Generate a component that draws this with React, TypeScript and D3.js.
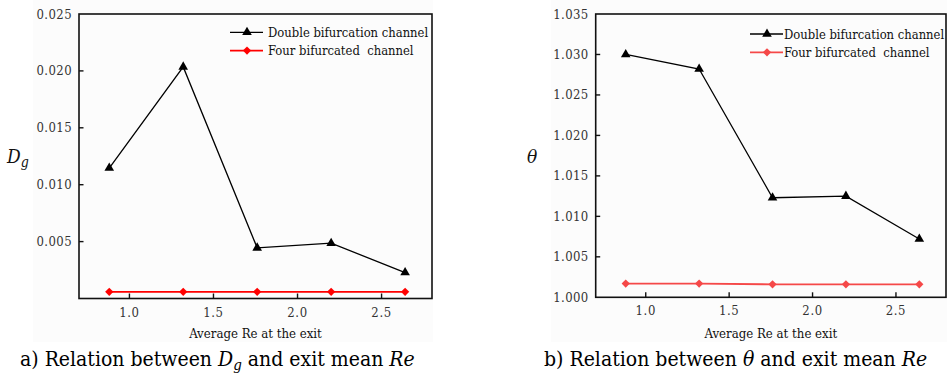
import React, { useEffect, useRef } from 'react';
import * as d3 from 'd3';

// Average Re at the exit
const reValues = [0.88, 1.32, 1.76, 2.2, 2.64];
const xTicks = [1.0, 1.5, 2.0, 2.5];

// a) Dg
const dgDouble = [0.01146, 0.02035, 0.00445, 0.00486, 0.00228];
const dgFour = [0.00059, 0.00059, 0.00059, 0.00059, 0.00059];
const dgTicks = [0.005, 0.01, 0.015, 0.02, 0.025];

// b) theta
const thetaDouble = [1.03, 1.0282, 1.0123, 1.0125, 1.0072];
const thetaFour = [1.0017, 1.0017, 1.0016, 1.0016, 1.0016];
const thetaTicks = [1.0, 1.005, 1.01, 1.015, 1.02, 1.025, 1.03, 1.035];

const seriesNames = ['Double bifurcation channel', 'Four bifurcated  channel'];

const W = 947;
const H = 374;
const FONT = '"DejaVu Serif Condensed", "DejaVu Serif", serif';

interface PanelCfg {
  left: number;
  right: number;
  top: number;
  bottom: number;
  yDomain: [number, number];
  yTicks: number[];
  black: number[];
  red: number[];
  redColor: string;
  legendX: number;
  legendY: number;
  legendGap: number;
  yLabel: 'Dg' | 'theta';
  yLabelX: number;
  caption: 'a' | 'b';
  captionX: number;
  bgX: number;
  bgW: number;
}

// diamond = square turned by 45deg
const diamondPath = d3.symbol().type(d3.symbolSquare).size(34)();
const trianglePath = d3.symbol().type(d3.symbolTriangle).size(40)();

function drawPanel(svg: d3.Selection<SVGSVGElement, unknown, null, undefined>, c: PanelCfg) {
  const g = svg.append('g').style('font-family', FONT).style('font-stretch', 'condensed');

  g.append('rect')
    .attr('x', c.bgX).attr('y', 0).attr('width', c.bgW).attr('height', 342)
    .attr('fill', '#fcfcfc');

  const x = d3.scaleLinear().domain([0.7, 2.8]).range([c.left, c.right]);
  const y = d3.scaleLinear().domain(c.yDomain).range([c.bottom, c.top]);

  // frame
  g.append('rect')
    .attr('x', c.left).attr('y', c.top)
    .attr('width', c.right - c.left).attr('height', c.bottom - c.top)
    .attr('fill', 'none').attr('stroke', '#111').attr('stroke-width', 1.6);

  // y ticks (inward)
  const fmt = d3.format('.3f');
  c.yTicks.forEach(t => {
    const yy = y(t);
    if (t > c.yDomain[0] && t < c.yDomain[1]) {
      g.append('line')
        .attr('x1', c.left).attr('x2', c.left + 4.5)
        .attr('y1', yy).attr('y2', yy)
        .attr('stroke', '#111').attr('stroke-width', 1.4);
    }
    g.append('text')
      .attr('x', c.left - 7).attr('y', yy).attr('dy', '0.35em')
      .attr('text-anchor', 'end')
      .attr('font-size', 13).attr('letter-spacing', 0.4).attr('fill', '#333')
      .text(fmt(t));
  });

  // x ticks (inward)
  const xf = d3.format('.1f');
  xTicks.forEach(t => {
    const xx = x(t);
    g.append('line')
      .attr('x1', xx).attr('x2', xx)
      .attr('y1', c.bottom).attr('y2', c.bottom - 5)
      .attr('stroke', '#111').attr('stroke-width', 1.4);
    g.append('text')
      .attr('x', xx).attr('y', c.bottom + 18)
      .attr('text-anchor', 'middle')
      .attr('font-size', 13).attr('letter-spacing', 0.6).attr('fill', '#333')
      .text(xf(t));
  });

  // x axis title
  g.append('text')
    .attr('x', (c.left + c.right) / 2).attr('y', 338)
    .attr('text-anchor', 'middle')
    .attr('font-size', 13.1).attr('fill', '#111')
    .text('Average Re at the exit');

  // y axis title
  const yl = g.append('text')
    .attr('x', c.yLabelX).attr('y', 163)
    .attr('font-size', 19)
    .attr('font-style', 'italic').attr('fill', '#111');
  if (c.yLabel === 'Dg') {
    yl.append('tspan').text('D');
    yl.append('tspan').attr('dy', 4).attr('font-size', 14).text('g');
  } else {
    yl.text('θ');
  }

  const line = d3.line<number>()
    .x((_, i) => x(reValues[i]))
    .y(d => y(d));

  // red series
  g.append('path').datum(c.red)
    .attr('d', line).attr('fill', 'none')
    .attr('stroke', c.redColor).attr('stroke-width', 1.8);
  g.selectAll('.dia').data(c.red).enter().append('path')
    .attr('transform', (d, i) => `translate(${x(reValues[i])},${y(d)}) rotate(45)`)
    .attr('d', diamondPath)
    .attr('fill', c.redColor);

  // black series
  g.append('path').datum(c.black)
    .attr('d', line).attr('fill', 'none')
    .attr('stroke', '#000').attr('stroke-width', 1.3);
  g.selectAll('.tri').data(c.black).enter().append('path')
    .attr('transform', (d, i) => `translate(${x(reValues[i])},${y(d)})`)
    .attr('d', trianglePath)
    .attr('fill', '#000');

  // legend
  const legendColors = ['#000', c.redColor];
  seriesNames.forEach((name, i) => {
    const ly = c.legendY + i * 18.3;
    const item = g.append('g');
    item.append('line')
      .attr('x1', c.legendX).attr('x2', c.legendX + 33)
      .attr('y1', ly).attr('y2', ly)
      .attr('stroke', legendColors[i]).attr('stroke-width', i === 0 ? 1.3 : 1.8);
    item.append('path')
      .attr('transform', `translate(${c.legendX + 17},${ly})` + (i === 0 ? '' : ' rotate(45)'))
      .attr('d', i === 0 ? trianglePath : diamondPath)
      .attr('fill', legendColors[i]);
    item.append('text')
      .attr('x', c.legendX + 33 + c.legendGap).attr('y', ly + 4.8)
      .attr('xml:space', 'preserve')
      .style('white-space', 'pre')
      .attr('font-size', 12.9).attr('fill', '#111')
      .text(name);
  });

  // caption
  const cap = g.append('text')
    .attr('x', c.captionX).attr('y', 366)
    .attr('xml:space', 'preserve')
    .style('white-space', 'pre')
    .attr('font-size', 21).attr('fill', '#000');
  if (c.caption === 'a') {
    cap.append('tspan').text('a) Relation between ');
    cap.append('tspan').attr('font-style', 'italic').text('D');
    cap.append('tspan').attr('dy', 4).attr('font-style', 'italic').attr('font-size', 15).text('g');
    cap.append('tspan').attr('dy', -4).text(' and exit mean ');
    cap.append('tspan').attr('font-style', 'italic').text('Re');
  } else {
    cap.append('tspan').text('b) Relation between ');
    cap.append('tspan').attr('font-style', 'italic').text('θ');
    cap.append('tspan').text(' and exit mean ');
    cap.append('tspan').attr('font-style', 'italic').text('Re');
  }
}

export default function App() {
  const svgRef = useRef<SVGSVGElement>(null);

  useEffect(() => {
    if (!svgRef.current) return;
    const svg = d3.select(svgRef.current);
    svg.selectAll('*').remove();

    drawPanel(svg, {
      left: 79, right: 432, top: 14, bottom: 298.5,
      yDomain: [0, 0.025], yTicks: dgTicks,
      black: dgDouble, red: dgFour, redColor: '#ff0000',
      legendX: 230, legendY: 32.3, legendGap: 5,
      yLabel: 'Dg', yLabelX: 7,
      caption: 'a', captionX: 20,
      bgX: 33, bgW: 400,
    });

    drawPanel(svg, {
      left: 595.7, right: 946, top: 14, bottom: 297.3,
      yDomain: [1.0, 1.035], yTicks: thetaTicks,
      black: thetaDouble, red: thetaFour, redColor: '#f54848',
      legendX: 750, legendY: 34, legendGap: 1,
      yLabel: 'theta', yLabelX: 527,
      caption: 'b', captionX: 544,
      bgX: 551, bgW: 396,
    });
  }, []);

  return (
    <svg
      ref={svgRef}
      width={W}
      height={H}
      style={{ position: 'absolute', left: 0, top: 0, background: '#fff' }}
    />
  );
}
